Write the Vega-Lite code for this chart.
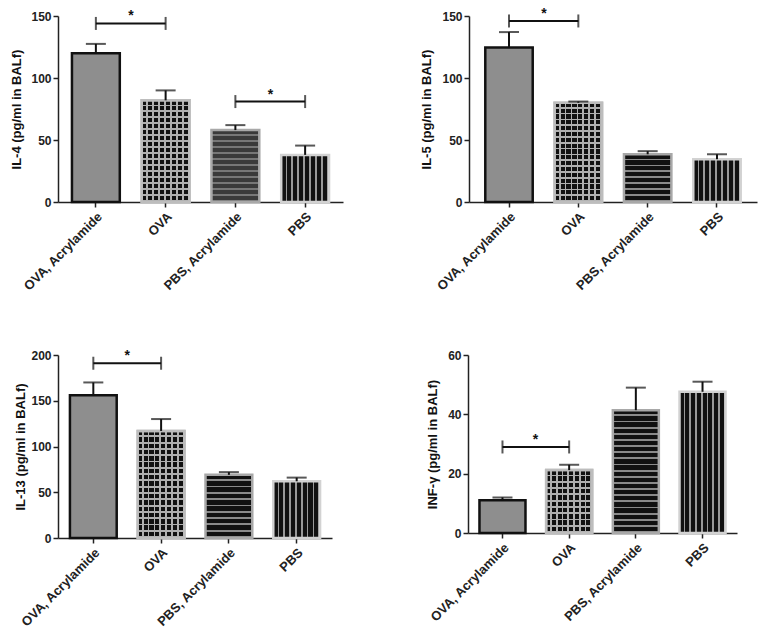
{
 "$schema": "https://vega.github.io/schema/vega-lite/v6.json",
 "background": "white",
 "padding": {"left": 10, "top": 6, "right": 5, "bottom": 5},
 "config": {
  "font": "Liberation Sans",
  "view": {"stroke": null},
  "axis": {"labelFont": "Liberation Sans", "labelFontWeight": "bold", "labelFontSize": 12, "labelColor": "#222", "titleFont": "Liberation Sans", "titleFontWeight": "bold", "titleFontSize": 13, "titleColor": "#111", "domainColor": "#222", "domainWidth": 1.5, "tickColor": "#222", "tickWidth": 1.5, "tickSize": 5, "grid": false, "labelPadding": 2},
  "axisX": {"labelAngle": -45, "title": null, "labelPadding": 3, "labelFontSize": 13}
 },
 "datasets": {
  "il4": [{"group": "OVA, Acrylamide", "mean": 120, "upper": 127.5}, {"group": "OVA", "mean": 82, "upper": 90}, {"group": "PBS, Acrylamide", "mean": 58, "upper": 62}, {"group": "PBS", "mean": 38, "upper": 45.5}],
  "sig4": [{"from": "OVA, Acrylamide", "to": "OVA", "y": 144}, {"from": "PBS, Acrylamide", "to": "PBS", "y": 81}],
  "il5": [{"group": "OVA, Acrylamide", "mean": 124.5, "upper": 137}, {"group": "OVA", "mean": 80, "upper": 81}, {"group": "PBS, Acrylamide", "mean": 38.5, "upper": 41}, {"group": "PBS", "mean": 34.5, "upper": 38.5}],
  "sig5": [{"from": "OVA, Acrylamide", "to": "OVA", "y": 146}],
  "il13": [{"group": "OVA, Acrylamide", "mean": 156, "upper": 170}, {"group": "OVA", "mean": 117, "upper": 130}, {"group": "PBS, Acrylamide", "mean": 69, "upper": 72}, {"group": "PBS", "mean": 62, "upper": 66}],
  "sig13": [{"from": "OVA, Acrylamide", "to": "OVA", "y": 191}],
  "inf": [{"group": "OVA, Acrylamide", "mean": 11, "upper": 12}, {"group": "OVA", "mean": 21.2, "upper": 23}, {"group": "PBS, Acrylamide", "mean": 41.4, "upper": 49}, {"group": "PBS", "mean": 47.6, "upper": 51}],
  "siginf": [{"from": "OVA, Acrylamide", "to": "OVA", "y": 29}]
 },
 "spacing": 55,
 "vconcat": [
  {"spacing": 77, "hconcat": [
   {"width": 285, "height": 186,
    "encoding": {"x": {"field": "group", "type": "nominal", "sort": null, "scale": {"domain": ["OVA, Acrylamide", "OVA", "PBS, Acrylamide", "PBS"], "paddingInner": 0.314, "paddingOuter": 0.2}}},
    "layer": [
     {"data": {"name": "il4"}, "mark": {"type": "bar", "strokeWidth": 2.5},
      "encoding": {
       "y": {"field": "mean", "type": "quantitative", "scale": {"domain": [0, 150], "nice": false}, "axis": {"title": "IL-4 (pg/ml in BALf)", "values": [0, 50, 100, 150], "titlePadding": 7}},
       "fill": {"condition": [
        {"test": "datum.group === 'PBS'", "value": {"gradient": "linear", "x1": 0, "y1": 0, "x2": 1, "y2": 0, "stops": [{"offset":0,"color":"#111"},{"offset":0.09,"color":"#111"},{"offset":0.09,"color":"#999"},{"offset":0.125,"color":"#999"},{"offset":0.125,"color":"#111"},{"offset":0.215,"color":"#111"},{"offset":0.215,"color":"#999"},{"offset":0.25,"color":"#999"},{"offset":0.25,"color":"#111"},{"offset":0.34,"color":"#111"},{"offset":0.34,"color":"#999"},{"offset":0.375,"color":"#999"},{"offset":0.375,"color":"#111"},{"offset":0.465,"color":"#111"},{"offset":0.465,"color":"#999"},{"offset":0.5,"color":"#999"},{"offset":0.5,"color":"#111"},{"offset":0.59,"color":"#111"},{"offset":0.59,"color":"#999"},{"offset":0.625,"color":"#999"},{"offset":0.625,"color":"#111"},{"offset":0.715,"color":"#111"},{"offset":0.715,"color":"#999"},{"offset":0.75,"color":"#999"},{"offset":0.75,"color":"#111"},{"offset":0.84,"color":"#111"},{"offset":0.84,"color":"#999"},{"offset":0.875,"color":"#999"},{"offset":0.875,"color":"#111"},{"offset":0.965,"color":"#111"},{"offset":0.965,"color":"#999"},{"offset":1,"color":"#999"}]}},
        {"test": "datum.group === 'PBS, Acrylamide'", "value": {"gradient": "linear", "x1": 0, "y1": 0, "x2": 0, "y2": 1, "stops": [{"offset":0,"color":"#3a3a3a"},{"offset":0.0583,"color":"#3a3a3a"},{"offset":0.0583,"color":"#777"},{"offset":0.0833,"color":"#777"},{"offset":0.0833,"color":"#3a3a3a"},{"offset":0.1417,"color":"#3a3a3a"},{"offset":0.1417,"color":"#777"},{"offset":0.1667,"color":"#777"},{"offset":0.1667,"color":"#3a3a3a"},{"offset":0.225,"color":"#3a3a3a"},{"offset":0.225,"color":"#777"},{"offset":0.25,"color":"#777"},{"offset":0.25,"color":"#3a3a3a"},{"offset":0.3083,"color":"#3a3a3a"},{"offset":0.3083,"color":"#777"},{"offset":0.3333,"color":"#777"},{"offset":0.3333,"color":"#3a3a3a"},{"offset":0.3917,"color":"#3a3a3a"},{"offset":0.3917,"color":"#777"},{"offset":0.4167,"color":"#777"},{"offset":0.4167,"color":"#3a3a3a"},{"offset":0.475,"color":"#3a3a3a"},{"offset":0.475,"color":"#777"},{"offset":0.5,"color":"#777"},{"offset":0.5,"color":"#3a3a3a"},{"offset":0.5583,"color":"#3a3a3a"},{"offset":0.5583,"color":"#777"},{"offset":0.5833,"color":"#777"},{"offset":0.5833,"color":"#3a3a3a"},{"offset":0.6417,"color":"#3a3a3a"},{"offset":0.6417,"color":"#777"},{"offset":0.6667,"color":"#777"},{"offset":0.6667,"color":"#3a3a3a"},{"offset":0.725,"color":"#3a3a3a"},{"offset":0.725,"color":"#777"},{"offset":0.75,"color":"#777"},{"offset":0.75,"color":"#3a3a3a"},{"offset":0.8083,"color":"#3a3a3a"},{"offset":0.8083,"color":"#777"},{"offset":0.8333,"color":"#777"},{"offset":0.8333,"color":"#3a3a3a"},{"offset":0.8917,"color":"#3a3a3a"},{"offset":0.8917,"color":"#777"},{"offset":0.9167,"color":"#777"},{"offset":0.9167,"color":"#3a3a3a"},{"offset":0.975,"color":"#3a3a3a"},{"offset":0.975,"color":"#777"},{"offset":1,"color":"#777"}]}},
        {"test": "datum.group === 'OVA'", "value": {"gradient": "linear", "x1": 0, "y1": 0, "x2": 1, "y2": 0, "stops": [{"offset":0,"color":"#111"},{"offset":0.0875,"color":"#111"},{"offset":0.0875,"color":"#b0b0b0"},{"offset":0.125,"color":"#b0b0b0"},{"offset":0.125,"color":"#111"},{"offset":0.2125,"color":"#111"},{"offset":0.2125,"color":"#b0b0b0"},{"offset":0.25,"color":"#b0b0b0"},{"offset":0.25,"color":"#111"},{"offset":0.3375,"color":"#111"},{"offset":0.3375,"color":"#b0b0b0"},{"offset":0.375,"color":"#b0b0b0"},{"offset":0.375,"color":"#111"},{"offset":0.4625,"color":"#111"},{"offset":0.4625,"color":"#b0b0b0"},{"offset":0.5,"color":"#b0b0b0"},{"offset":0.5,"color":"#111"},{"offset":0.5875,"color":"#111"},{"offset":0.5875,"color":"#b0b0b0"},{"offset":0.625,"color":"#b0b0b0"},{"offset":0.625,"color":"#111"},{"offset":0.7125,"color":"#111"},{"offset":0.7125,"color":"#b0b0b0"},{"offset":0.75,"color":"#b0b0b0"},{"offset":0.75,"color":"#111"},{"offset":0.8375,"color":"#111"},{"offset":0.8375,"color":"#b0b0b0"},{"offset":0.875,"color":"#b0b0b0"},{"offset":0.875,"color":"#111"},{"offset":0.9625,"color":"#111"},{"offset":0.9625,"color":"#b0b0b0"},{"offset":1,"color":"#b0b0b0"}]}}
       ], "value": "#8e8e8e"},
       "stroke": {"condition": [
        {"test": "datum.group === 'PBS'", "value": "#d2d2d2"},
        {"test": "datum.group === 'PBS, Acrylamide'", "value": "#a8a8a8"},
        {"test": "datum.group === 'OVA'", "value": "#bdbdbd"}
       ], "value": "#111111"}
      }},
     {"data": {"name": "il4"}, "transform": [{"filter": "datum.group === 'OVA'"}], "mark": {"type": "bar", "strokeWidth": 2.5, "stroke": "#bdbdbd", "fill": {"gradient": "linear", "x1": 0, "y1": 0, "x2": 0, "y2": 1, "stops": [{"offset":0,"color":"rgba(0,0,0,0)"},{"offset":0.0412,"color":"rgba(0,0,0,0)"},{"offset":0.0412,"color":"#b0b0b0"},{"offset":0.0588,"color":"#b0b0b0"},{"offset":0.0588,"color":"rgba(0,0,0,0)"},{"offset":0.1,"color":"rgba(0,0,0,0)"},{"offset":0.1,"color":"#b0b0b0"},{"offset":0.1176,"color":"#b0b0b0"},{"offset":0.1176,"color":"rgba(0,0,0,0)"},{"offset":0.1588,"color":"rgba(0,0,0,0)"},{"offset":0.1588,"color":"#b0b0b0"},{"offset":0.1765,"color":"#b0b0b0"},{"offset":0.1765,"color":"rgba(0,0,0,0)"},{"offset":0.2177,"color":"rgba(0,0,0,0)"},{"offset":0.2177,"color":"#b0b0b0"},{"offset":0.2353,"color":"#b0b0b0"},{"offset":0.2353,"color":"rgba(0,0,0,0)"},{"offset":0.2765,"color":"rgba(0,0,0,0)"},{"offset":0.2765,"color":"#b0b0b0"},{"offset":0.2941,"color":"#b0b0b0"},{"offset":0.2941,"color":"rgba(0,0,0,0)"},{"offset":0.3353,"color":"rgba(0,0,0,0)"},{"offset":0.3353,"color":"#b0b0b0"},{"offset":0.3529,"color":"#b0b0b0"},{"offset":0.3529,"color":"rgba(0,0,0,0)"},{"offset":0.3941,"color":"rgba(0,0,0,0)"},{"offset":0.3941,"color":"#b0b0b0"},{"offset":0.4118,"color":"#b0b0b0"},{"offset":0.4118,"color":"rgba(0,0,0,0)"},{"offset":0.453,"color":"rgba(0,0,0,0)"},{"offset":0.453,"color":"#b0b0b0"},{"offset":0.4706,"color":"#b0b0b0"},{"offset":0.4706,"color":"rgba(0,0,0,0)"},{"offset":0.5118,"color":"rgba(0,0,0,0)"},{"offset":0.5118,"color":"#b0b0b0"},{"offset":0.5294,"color":"#b0b0b0"},{"offset":0.5294,"color":"rgba(0,0,0,0)"},{"offset":0.5706,"color":"rgba(0,0,0,0)"},{"offset":0.5706,"color":"#b0b0b0"},{"offset":0.5882,"color":"#b0b0b0"},{"offset":0.5882,"color":"rgba(0,0,0,0)"},{"offset":0.6294,"color":"rgba(0,0,0,0)"},{"offset":0.6294,"color":"#b0b0b0"},{"offset":0.6471,"color":"#b0b0b0"},{"offset":0.6471,"color":"rgba(0,0,0,0)"},{"offset":0.6883,"color":"rgba(0,0,0,0)"},{"offset":0.6883,"color":"#b0b0b0"},{"offset":0.7059,"color":"#b0b0b0"},{"offset":0.7059,"color":"rgba(0,0,0,0)"},{"offset":0.7471,"color":"rgba(0,0,0,0)"},{"offset":0.7471,"color":"#b0b0b0"},{"offset":0.7647,"color":"#b0b0b0"},{"offset":0.7647,"color":"rgba(0,0,0,0)"},{"offset":0.8059,"color":"rgba(0,0,0,0)"},{"offset":0.8059,"color":"#b0b0b0"},{"offset":0.8235,"color":"#b0b0b0"},{"offset":0.8235,"color":"rgba(0,0,0,0)"},{"offset":0.8647,"color":"rgba(0,0,0,0)"},{"offset":0.8647,"color":"#b0b0b0"},{"offset":0.8824,"color":"#b0b0b0"},{"offset":0.8824,"color":"rgba(0,0,0,0)"},{"offset":0.9236,"color":"rgba(0,0,0,0)"},{"offset":0.9236,"color":"#b0b0b0"},{"offset":0.9412,"color":"#b0b0b0"},{"offset":0.9412,"color":"rgba(0,0,0,0)"},{"offset":0.9824,"color":"rgba(0,0,0,0)"},{"offset":0.9824,"color":"#b0b0b0"},{"offset":1,"color":"#b0b0b0"}]}}, "encoding": {"y": {"field": "mean", "type": "quantitative"}}},
     {"data": {"name": "il4"}, "mark": {"type": "rule", "color": "#111", "strokeWidth": 2}, "encoding": {"y": {"field": "mean", "type": "quantitative"}, "y2": {"field": "upper"}}},
     {"data": {"name": "il4"}, "mark": {"type": "tick", "orient": "horizontal", "size": 20, "thickness": 2, "color": "#111"}, "encoding": {"y": {"field": "upper", "type": "quantitative"}}},
     {"data": {"name": "sig4"}, "mark": {"type": "rule", "color": "#111", "strokeWidth": 2}, "encoding": {"x": {"field": "from", "type": "nominal", "sort": null}, "x2": {"field": "to"}, "y": {"field": "y", "type": "quantitative"}}},
     {"data": {"name": "sig4"}, "mark": {"type": "tick", "orient": "vertical", "size": 13, "thickness": 2, "color": "#111"}, "encoding": {"x": {"field": "from", "type": "nominal", "sort": null}, "y": {"field": "y", "type": "quantitative"}}},
     {"data": {"name": "sig4"}, "mark": {"type": "tick", "orient": "vertical", "size": 13, "thickness": 2, "color": "#111"}, "encoding": {"x": {"field": "to", "type": "nominal", "sort": null}, "y": {"field": "y", "type": "quantitative"}}},
     {"data": {"name": "sig4"}, "mark": {"type": "text", "text": "*", "fontSize": 14, "fontWeight": "bold", "dx": 35, "dy": -7, "color": "#111"}, "encoding": {"x": {"field": "from", "type": "nominal", "sort": null}, "y": {"field": "y", "type": "quantitative"}}}
    ]},
   {"width": 288, "height": 186,
    "encoding": {"x": {"field": "group", "type": "nominal", "sort": null, "scale": {"domain": ["OVA, Acrylamide", "OVA", "PBS, Acrylamide", "PBS"], "paddingInner": 0.316, "paddingOuter": 0.235}}},
    "layer": [
     {"data": {"name": "il5"}, "mark": {"type": "bar", "strokeWidth": 2.5},
      "encoding": {
       "y": {"field": "mean", "type": "quantitative", "scale": {"domain": [0, 150], "nice": false}, "axis": {"title": "IL-5 (pg/ml in BALf)", "values": [0, 50, 100, 150], "titlePadding": 8}},
       "fill": {"condition": [
        {"test": "datum.group === 'PBS'", "value": {"gradient": "linear", "x1": 0, "y1": 0, "x2": 1, "y2": 0, "stops": [{"offset":0,"color":"#111"},{"offset":0.09,"color":"#111"},{"offset":0.09,"color":"#999"},{"offset":0.125,"color":"#999"},{"offset":0.125,"color":"#111"},{"offset":0.215,"color":"#111"},{"offset":0.215,"color":"#999"},{"offset":0.25,"color":"#999"},{"offset":0.25,"color":"#111"},{"offset":0.34,"color":"#111"},{"offset":0.34,"color":"#999"},{"offset":0.375,"color":"#999"},{"offset":0.375,"color":"#111"},{"offset":0.465,"color":"#111"},{"offset":0.465,"color":"#999"},{"offset":0.5,"color":"#999"},{"offset":0.5,"color":"#111"},{"offset":0.59,"color":"#111"},{"offset":0.59,"color":"#999"},{"offset":0.625,"color":"#999"},{"offset":0.625,"color":"#111"},{"offset":0.715,"color":"#111"},{"offset":0.715,"color":"#999"},{"offset":0.75,"color":"#999"},{"offset":0.75,"color":"#111"},{"offset":0.84,"color":"#111"},{"offset":0.84,"color":"#999"},{"offset":0.875,"color":"#999"},{"offset":0.875,"color":"#111"},{"offset":0.965,"color":"#111"},{"offset":0.965,"color":"#999"},{"offset":1,"color":"#999"}]}},
        {"test": "datum.group === 'PBS, Acrylamide'", "value": {"gradient": "linear", "x1": 0, "y1": 0, "x2": 0, "y2": 1, "stops": [{"offset":0,"color":"#111"},{"offset":0.09,"color":"#111"},{"offset":0.09,"color":"#8a8a8a"},{"offset":0.125,"color":"#8a8a8a"},{"offset":0.125,"color":"#111"},{"offset":0.215,"color":"#111"},{"offset":0.215,"color":"#8a8a8a"},{"offset":0.25,"color":"#8a8a8a"},{"offset":0.25,"color":"#111"},{"offset":0.34,"color":"#111"},{"offset":0.34,"color":"#8a8a8a"},{"offset":0.375,"color":"#8a8a8a"},{"offset":0.375,"color":"#111"},{"offset":0.465,"color":"#111"},{"offset":0.465,"color":"#8a8a8a"},{"offset":0.5,"color":"#8a8a8a"},{"offset":0.5,"color":"#111"},{"offset":0.59,"color":"#111"},{"offset":0.59,"color":"#8a8a8a"},{"offset":0.625,"color":"#8a8a8a"},{"offset":0.625,"color":"#111"},{"offset":0.715,"color":"#111"},{"offset":0.715,"color":"#8a8a8a"},{"offset":0.75,"color":"#8a8a8a"},{"offset":0.75,"color":"#111"},{"offset":0.84,"color":"#111"},{"offset":0.84,"color":"#8a8a8a"},{"offset":0.875,"color":"#8a8a8a"},{"offset":0.875,"color":"#111"},{"offset":0.965,"color":"#111"},{"offset":0.965,"color":"#8a8a8a"},{"offset":1,"color":"#8a8a8a"}]}},
        {"test": "datum.group === 'OVA'", "value": {"gradient": "linear", "x1": 0, "y1": 0, "x2": 1, "y2": 0, "stops": [{"offset":0,"color":"#111"},{"offset":0.0875,"color":"#111"},{"offset":0.0875,"color":"#b0b0b0"},{"offset":0.125,"color":"#b0b0b0"},{"offset":0.125,"color":"#111"},{"offset":0.2125,"color":"#111"},{"offset":0.2125,"color":"#b0b0b0"},{"offset":0.25,"color":"#b0b0b0"},{"offset":0.25,"color":"#111"},{"offset":0.3375,"color":"#111"},{"offset":0.3375,"color":"#b0b0b0"},{"offset":0.375,"color":"#b0b0b0"},{"offset":0.375,"color":"#111"},{"offset":0.4625,"color":"#111"},{"offset":0.4625,"color":"#b0b0b0"},{"offset":0.5,"color":"#b0b0b0"},{"offset":0.5,"color":"#111"},{"offset":0.5875,"color":"#111"},{"offset":0.5875,"color":"#b0b0b0"},{"offset":0.625,"color":"#b0b0b0"},{"offset":0.625,"color":"#111"},{"offset":0.7125,"color":"#111"},{"offset":0.7125,"color":"#b0b0b0"},{"offset":0.75,"color":"#b0b0b0"},{"offset":0.75,"color":"#111"},{"offset":0.8375,"color":"#111"},{"offset":0.8375,"color":"#b0b0b0"},{"offset":0.875,"color":"#b0b0b0"},{"offset":0.875,"color":"#111"},{"offset":0.9625,"color":"#111"},{"offset":0.9625,"color":"#b0b0b0"},{"offset":1,"color":"#b0b0b0"}]}}
       ], "value": "#8e8e8e"},
       "stroke": {"condition": [
        {"test": "datum.group === 'PBS'", "value": "#d2d2d2"},
        {"test": "datum.group === 'PBS, Acrylamide'", "value": "#a8a8a8"},
        {"test": "datum.group === 'OVA'", "value": "#bdbdbd"}
       ], "value": "#111111"}
      }},
     {"data": {"name": "il5"}, "transform": [{"filter": "datum.group === 'OVA'"}], "mark": {"type": "bar", "strokeWidth": 2.5, "stroke": "#bdbdbd", "fill": {"gradient": "linear", "x1": 0, "y1": 0, "x2": 0, "y2": 1, "stops": [{"offset":0,"color":"rgba(0,0,0,0)"},{"offset":0.0412,"color":"rgba(0,0,0,0)"},{"offset":0.0412,"color":"#b0b0b0"},{"offset":0.0588,"color":"#b0b0b0"},{"offset":0.0588,"color":"rgba(0,0,0,0)"},{"offset":0.1,"color":"rgba(0,0,0,0)"},{"offset":0.1,"color":"#b0b0b0"},{"offset":0.1176,"color":"#b0b0b0"},{"offset":0.1176,"color":"rgba(0,0,0,0)"},{"offset":0.1588,"color":"rgba(0,0,0,0)"},{"offset":0.1588,"color":"#b0b0b0"},{"offset":0.1765,"color":"#b0b0b0"},{"offset":0.1765,"color":"rgba(0,0,0,0)"},{"offset":0.2177,"color":"rgba(0,0,0,0)"},{"offset":0.2177,"color":"#b0b0b0"},{"offset":0.2353,"color":"#b0b0b0"},{"offset":0.2353,"color":"rgba(0,0,0,0)"},{"offset":0.2765,"color":"rgba(0,0,0,0)"},{"offset":0.2765,"color":"#b0b0b0"},{"offset":0.2941,"color":"#b0b0b0"},{"offset":0.2941,"color":"rgba(0,0,0,0)"},{"offset":0.3353,"color":"rgba(0,0,0,0)"},{"offset":0.3353,"color":"#b0b0b0"},{"offset":0.3529,"color":"#b0b0b0"},{"offset":0.3529,"color":"rgba(0,0,0,0)"},{"offset":0.3941,"color":"rgba(0,0,0,0)"},{"offset":0.3941,"color":"#b0b0b0"},{"offset":0.4118,"color":"#b0b0b0"},{"offset":0.4118,"color":"rgba(0,0,0,0)"},{"offset":0.453,"color":"rgba(0,0,0,0)"},{"offset":0.453,"color":"#b0b0b0"},{"offset":0.4706,"color":"#b0b0b0"},{"offset":0.4706,"color":"rgba(0,0,0,0)"},{"offset":0.5118,"color":"rgba(0,0,0,0)"},{"offset":0.5118,"color":"#b0b0b0"},{"offset":0.5294,"color":"#b0b0b0"},{"offset":0.5294,"color":"rgba(0,0,0,0)"},{"offset":0.5706,"color":"rgba(0,0,0,0)"},{"offset":0.5706,"color":"#b0b0b0"},{"offset":0.5882,"color":"#b0b0b0"},{"offset":0.5882,"color":"rgba(0,0,0,0)"},{"offset":0.6294,"color":"rgba(0,0,0,0)"},{"offset":0.6294,"color":"#b0b0b0"},{"offset":0.6471,"color":"#b0b0b0"},{"offset":0.6471,"color":"rgba(0,0,0,0)"},{"offset":0.6883,"color":"rgba(0,0,0,0)"},{"offset":0.6883,"color":"#b0b0b0"},{"offset":0.7059,"color":"#b0b0b0"},{"offset":0.7059,"color":"rgba(0,0,0,0)"},{"offset":0.7471,"color":"rgba(0,0,0,0)"},{"offset":0.7471,"color":"#b0b0b0"},{"offset":0.7647,"color":"#b0b0b0"},{"offset":0.7647,"color":"rgba(0,0,0,0)"},{"offset":0.8059,"color":"rgba(0,0,0,0)"},{"offset":0.8059,"color":"#b0b0b0"},{"offset":0.8235,"color":"#b0b0b0"},{"offset":0.8235,"color":"rgba(0,0,0,0)"},{"offset":0.8647,"color":"rgba(0,0,0,0)"},{"offset":0.8647,"color":"#b0b0b0"},{"offset":0.8824,"color":"#b0b0b0"},{"offset":0.8824,"color":"rgba(0,0,0,0)"},{"offset":0.9236,"color":"rgba(0,0,0,0)"},{"offset":0.9236,"color":"#b0b0b0"},{"offset":0.9412,"color":"#b0b0b0"},{"offset":0.9412,"color":"rgba(0,0,0,0)"},{"offset":0.9824,"color":"rgba(0,0,0,0)"},{"offset":0.9824,"color":"#b0b0b0"},{"offset":1,"color":"#b0b0b0"}]}}, "encoding": {"y": {"field": "mean", "type": "quantitative"}}},
     {"data": {"name": "il5"}, "mark": {"type": "rule", "color": "#111", "strokeWidth": 2}, "encoding": {"y": {"field": "mean", "type": "quantitative"}, "y2": {"field": "upper"}}},
     {"data": {"name": "il5"}, "mark": {"type": "tick", "orient": "horizontal", "size": 20, "thickness": 2, "color": "#111"}, "encoding": {"y": {"field": "upper", "type": "quantitative"}}},
     {"data": {"name": "sig5"}, "mark": {"type": "rule", "color": "#111", "strokeWidth": 2}, "encoding": {"x": {"field": "from", "type": "nominal", "sort": null}, "x2": {"field": "to"}, "y": {"field": "y", "type": "quantitative"}}},
     {"data": {"name": "sig5"}, "mark": {"type": "tick", "orient": "vertical", "size": 13, "thickness": 2, "color": "#111"}, "encoding": {"x": {"field": "from", "type": "nominal", "sort": null}, "y": {"field": "y", "type": "quantitative"}}},
     {"data": {"name": "sig5"}, "mark": {"type": "tick", "orient": "vertical", "size": 13, "thickness": 2, "color": "#111"}, "encoding": {"x": {"field": "to", "type": "nominal", "sort": null}, "y": {"field": "y", "type": "quantitative"}}},
     {"data": {"name": "sig5"}, "mark": {"type": "text", "text": "*", "fontSize": 14, "fontWeight": "bold", "dx": 35, "dy": -7, "color": "#111"}, "encoding": {"x": {"field": "from", "type": "nominal", "sort": null}, "y": {"field": "y", "type": "quantitative"}}}
    ]}
  ]},
  {"spacing": 94, "hconcat": [
   {"width": 274, "height": 183,
    "encoding": {"x": {"field": "group", "type": "nominal", "sort": null, "scale": {"domain": ["OVA, Acrylamide", "OVA", "PBS, Acrylamide", "PBS"], "paddingInner": 0.31, "paddingOuter": 0.176}}},
    "layer": [
     {"data": {"name": "il13"}, "mark": {"type": "bar", "strokeWidth": 2.5},
      "encoding": {
       "y": {"field": "mean", "type": "quantitative", "scale": {"domain": [0, 200], "nice": false}, "axis": {"title": "IL-13 (pg/ml in BALf)", "values": [0, 50, 100, 150, 200], "titlePadding": 3}},
       "fill": {"condition": [
        {"test": "datum.group === 'PBS'", "value": {"gradient": "linear", "x1": 0, "y1": 0, "x2": 1, "y2": 0, "stops": [{"offset":0,"color":"#111"},{"offset":0.09,"color":"#111"},{"offset":0.09,"color":"#999"},{"offset":0.125,"color":"#999"},{"offset":0.125,"color":"#111"},{"offset":0.215,"color":"#111"},{"offset":0.215,"color":"#999"},{"offset":0.25,"color":"#999"},{"offset":0.25,"color":"#111"},{"offset":0.34,"color":"#111"},{"offset":0.34,"color":"#999"},{"offset":0.375,"color":"#999"},{"offset":0.375,"color":"#111"},{"offset":0.465,"color":"#111"},{"offset":0.465,"color":"#999"},{"offset":0.5,"color":"#999"},{"offset":0.5,"color":"#111"},{"offset":0.59,"color":"#111"},{"offset":0.59,"color":"#999"},{"offset":0.625,"color":"#999"},{"offset":0.625,"color":"#111"},{"offset":0.715,"color":"#111"},{"offset":0.715,"color":"#999"},{"offset":0.75,"color":"#999"},{"offset":0.75,"color":"#111"},{"offset":0.84,"color":"#111"},{"offset":0.84,"color":"#999"},{"offset":0.875,"color":"#999"},{"offset":0.875,"color":"#111"},{"offset":0.965,"color":"#111"},{"offset":0.965,"color":"#999"},{"offset":1,"color":"#999"}]}},
        {"test": "datum.group === 'PBS, Acrylamide'", "value": {"gradient": "linear", "x1": 0, "y1": 0, "x2": 0, "y2": 1, "stops": [{"offset":0,"color":"#111"},{"offset":0.07,"color":"#111"},{"offset":0.07,"color":"#8a8a8a"},{"offset":0.1,"color":"#8a8a8a"},{"offset":0.1,"color":"#111"},{"offset":0.17,"color":"#111"},{"offset":0.17,"color":"#8a8a8a"},{"offset":0.2,"color":"#8a8a8a"},{"offset":0.2,"color":"#111"},{"offset":0.27,"color":"#111"},{"offset":0.27,"color":"#8a8a8a"},{"offset":0.3,"color":"#8a8a8a"},{"offset":0.3,"color":"#111"},{"offset":0.37,"color":"#111"},{"offset":0.37,"color":"#8a8a8a"},{"offset":0.4,"color":"#8a8a8a"},{"offset":0.4,"color":"#111"},{"offset":0.47,"color":"#111"},{"offset":0.47,"color":"#8a8a8a"},{"offset":0.5,"color":"#8a8a8a"},{"offset":0.5,"color":"#111"},{"offset":0.57,"color":"#111"},{"offset":0.57,"color":"#8a8a8a"},{"offset":0.6,"color":"#8a8a8a"},{"offset":0.6,"color":"#111"},{"offset":0.67,"color":"#111"},{"offset":0.67,"color":"#8a8a8a"},{"offset":0.7,"color":"#8a8a8a"},{"offset":0.7,"color":"#111"},{"offset":0.77,"color":"#111"},{"offset":0.77,"color":"#8a8a8a"},{"offset":0.8,"color":"#8a8a8a"},{"offset":0.8,"color":"#111"},{"offset":0.87,"color":"#111"},{"offset":0.87,"color":"#8a8a8a"},{"offset":0.9,"color":"#8a8a8a"},{"offset":0.9,"color":"#111"},{"offset":0.97,"color":"#111"},{"offset":0.97,"color":"#8a8a8a"},{"offset":1,"color":"#8a8a8a"}]}},
        {"test": "datum.group === 'OVA'", "value": {"gradient": "linear", "x1": 0, "y1": 0, "x2": 1, "y2": 0, "stops": [{"offset":0,"color":"#111"},{"offset":0.0875,"color":"#111"},{"offset":0.0875,"color":"#b0b0b0"},{"offset":0.125,"color":"#b0b0b0"},{"offset":0.125,"color":"#111"},{"offset":0.2125,"color":"#111"},{"offset":0.2125,"color":"#b0b0b0"},{"offset":0.25,"color":"#b0b0b0"},{"offset":0.25,"color":"#111"},{"offset":0.3375,"color":"#111"},{"offset":0.3375,"color":"#b0b0b0"},{"offset":0.375,"color":"#b0b0b0"},{"offset":0.375,"color":"#111"},{"offset":0.4625,"color":"#111"},{"offset":0.4625,"color":"#b0b0b0"},{"offset":0.5,"color":"#b0b0b0"},{"offset":0.5,"color":"#111"},{"offset":0.5875,"color":"#111"},{"offset":0.5875,"color":"#b0b0b0"},{"offset":0.625,"color":"#b0b0b0"},{"offset":0.625,"color":"#111"},{"offset":0.7125,"color":"#111"},{"offset":0.7125,"color":"#b0b0b0"},{"offset":0.75,"color":"#b0b0b0"},{"offset":0.75,"color":"#111"},{"offset":0.8375,"color":"#111"},{"offset":0.8375,"color":"#b0b0b0"},{"offset":0.875,"color":"#b0b0b0"},{"offset":0.875,"color":"#111"},{"offset":0.9625,"color":"#111"},{"offset":0.9625,"color":"#b0b0b0"},{"offset":1,"color":"#b0b0b0"}]}}
       ], "value": "#8e8e8e"},
       "stroke": {"condition": [
        {"test": "datum.group === 'PBS'", "value": "#d2d2d2"},
        {"test": "datum.group === 'PBS, Acrylamide'", "value": "#a8a8a8"},
        {"test": "datum.group === 'OVA'", "value": "#bdbdbd"}
       ], "value": "#111111"}
      }},
     {"data": {"name": "il13"}, "transform": [{"filter": "datum.group === 'OVA'"}], "mark": {"type": "bar", "strokeWidth": 2.5, "stroke": "#bdbdbd", "fill": {"gradient": "linear", "x1": 0, "y1": 0, "x2": 0, "y2": 1, "stops": [{"offset":0,"color":"rgba(0,0,0,0)"},{"offset":0.0412,"color":"rgba(0,0,0,0)"},{"offset":0.0412,"color":"#b0b0b0"},{"offset":0.0588,"color":"#b0b0b0"},{"offset":0.0588,"color":"rgba(0,0,0,0)"},{"offset":0.1,"color":"rgba(0,0,0,0)"},{"offset":0.1,"color":"#b0b0b0"},{"offset":0.1176,"color":"#b0b0b0"},{"offset":0.1176,"color":"rgba(0,0,0,0)"},{"offset":0.1588,"color":"rgba(0,0,0,0)"},{"offset":0.1588,"color":"#b0b0b0"},{"offset":0.1765,"color":"#b0b0b0"},{"offset":0.1765,"color":"rgba(0,0,0,0)"},{"offset":0.2177,"color":"rgba(0,0,0,0)"},{"offset":0.2177,"color":"#b0b0b0"},{"offset":0.2353,"color":"#b0b0b0"},{"offset":0.2353,"color":"rgba(0,0,0,0)"},{"offset":0.2765,"color":"rgba(0,0,0,0)"},{"offset":0.2765,"color":"#b0b0b0"},{"offset":0.2941,"color":"#b0b0b0"},{"offset":0.2941,"color":"rgba(0,0,0,0)"},{"offset":0.3353,"color":"rgba(0,0,0,0)"},{"offset":0.3353,"color":"#b0b0b0"},{"offset":0.3529,"color":"#b0b0b0"},{"offset":0.3529,"color":"rgba(0,0,0,0)"},{"offset":0.3941,"color":"rgba(0,0,0,0)"},{"offset":0.3941,"color":"#b0b0b0"},{"offset":0.4118,"color":"#b0b0b0"},{"offset":0.4118,"color":"rgba(0,0,0,0)"},{"offset":0.453,"color":"rgba(0,0,0,0)"},{"offset":0.453,"color":"#b0b0b0"},{"offset":0.4706,"color":"#b0b0b0"},{"offset":0.4706,"color":"rgba(0,0,0,0)"},{"offset":0.5118,"color":"rgba(0,0,0,0)"},{"offset":0.5118,"color":"#b0b0b0"},{"offset":0.5294,"color":"#b0b0b0"},{"offset":0.5294,"color":"rgba(0,0,0,0)"},{"offset":0.5706,"color":"rgba(0,0,0,0)"},{"offset":0.5706,"color":"#b0b0b0"},{"offset":0.5882,"color":"#b0b0b0"},{"offset":0.5882,"color":"rgba(0,0,0,0)"},{"offset":0.6294,"color":"rgba(0,0,0,0)"},{"offset":0.6294,"color":"#b0b0b0"},{"offset":0.6471,"color":"#b0b0b0"},{"offset":0.6471,"color":"rgba(0,0,0,0)"},{"offset":0.6883,"color":"rgba(0,0,0,0)"},{"offset":0.6883,"color":"#b0b0b0"},{"offset":0.7059,"color":"#b0b0b0"},{"offset":0.7059,"color":"rgba(0,0,0,0)"},{"offset":0.7471,"color":"rgba(0,0,0,0)"},{"offset":0.7471,"color":"#b0b0b0"},{"offset":0.7647,"color":"#b0b0b0"},{"offset":0.7647,"color":"rgba(0,0,0,0)"},{"offset":0.8059,"color":"rgba(0,0,0,0)"},{"offset":0.8059,"color":"#b0b0b0"},{"offset":0.8235,"color":"#b0b0b0"},{"offset":0.8235,"color":"rgba(0,0,0,0)"},{"offset":0.8647,"color":"rgba(0,0,0,0)"},{"offset":0.8647,"color":"#b0b0b0"},{"offset":0.8824,"color":"#b0b0b0"},{"offset":0.8824,"color":"rgba(0,0,0,0)"},{"offset":0.9236,"color":"rgba(0,0,0,0)"},{"offset":0.9236,"color":"#b0b0b0"},{"offset":0.9412,"color":"#b0b0b0"},{"offset":0.9412,"color":"rgba(0,0,0,0)"},{"offset":0.9824,"color":"rgba(0,0,0,0)"},{"offset":0.9824,"color":"#b0b0b0"},{"offset":1,"color":"#b0b0b0"}]}}, "encoding": {"y": {"field": "mean", "type": "quantitative"}}},
     {"data": {"name": "il13"}, "mark": {"type": "rule", "color": "#111", "strokeWidth": 2}, "encoding": {"y": {"field": "mean", "type": "quantitative"}, "y2": {"field": "upper"}}},
     {"data": {"name": "il13"}, "mark": {"type": "tick", "orient": "horizontal", "size": 20, "thickness": 2, "color": "#111"}, "encoding": {"y": {"field": "upper", "type": "quantitative"}}},
     {"data": {"name": "sig13"}, "mark": {"type": "rule", "color": "#111", "strokeWidth": 2}, "encoding": {"x": {"field": "from", "type": "nominal", "sort": null}, "x2": {"field": "to"}, "y": {"field": "y", "type": "quantitative"}}},
     {"data": {"name": "sig13"}, "mark": {"type": "tick", "orient": "vertical", "size": 13, "thickness": 2, "color": "#111"}, "encoding": {"x": {"field": "from", "type": "nominal", "sort": null}, "y": {"field": "y", "type": "quantitative"}}},
     {"data": {"name": "sig13"}, "mark": {"type": "tick", "orient": "vertical", "size": 13, "thickness": 2, "color": "#111"}, "encoding": {"x": {"field": "to", "type": "nominal", "sort": null}, "y": {"field": "y", "type": "quantitative"}}},
     {"data": {"name": "sig13"}, "mark": {"type": "text", "text": "*", "fontSize": 14, "fontWeight": "bold", "dx": 34, "dy": -7, "color": "#111"}, "encoding": {"x": {"field": "from", "type": "nominal", "sort": null}, "y": {"field": "y", "type": "quantitative"}}}
    ]},
   {"width": 269, "height": 178,
    "encoding": {"x": {"field": "group", "type": "nominal", "sort": null, "scale": {"domain": ["OVA, Acrylamide", "OVA", "PBS, Acrylamide", "PBS"], "paddingInner": 0.31, "paddingOuter": 0.172}}},
    "layer": [
     {"data": {"name": "inf"}, "mark": {"type": "bar", "strokeWidth": 2.5},
      "encoding": {
       "y": {"field": "mean", "type": "quantitative", "scale": {"domain": [0, 60], "nice": false}, "axis": {"title": "INF-γ (pg/ml in BALf)", "values": [0, 20, 40, 60], "titlePadding": 8}},
       "fill": {"condition": [
        {"test": "datum.group === 'PBS'", "value": {"gradient": "linear", "x1": 0, "y1": 0, "x2": 1, "y2": 0, "stops": [{"offset":0,"color":"#111"},{"offset":0.09,"color":"#111"},{"offset":0.09,"color":"#999"},{"offset":0.125,"color":"#999"},{"offset":0.125,"color":"#111"},{"offset":0.215,"color":"#111"},{"offset":0.215,"color":"#999"},{"offset":0.25,"color":"#999"},{"offset":0.25,"color":"#111"},{"offset":0.34,"color":"#111"},{"offset":0.34,"color":"#999"},{"offset":0.375,"color":"#999"},{"offset":0.375,"color":"#111"},{"offset":0.465,"color":"#111"},{"offset":0.465,"color":"#999"},{"offset":0.5,"color":"#999"},{"offset":0.5,"color":"#111"},{"offset":0.59,"color":"#111"},{"offset":0.59,"color":"#999"},{"offset":0.625,"color":"#999"},{"offset":0.625,"color":"#111"},{"offset":0.715,"color":"#111"},{"offset":0.715,"color":"#999"},{"offset":0.75,"color":"#999"},{"offset":0.75,"color":"#111"},{"offset":0.84,"color":"#111"},{"offset":0.84,"color":"#999"},{"offset":0.875,"color":"#999"},{"offset":0.875,"color":"#111"},{"offset":0.965,"color":"#111"},{"offset":0.965,"color":"#999"},{"offset":1,"color":"#999"}]}},
        {"test": "datum.group === 'PBS, Acrylamide'", "value": {"gradient": "linear", "x1": 0, "y1": 0, "x2": 0, "y2": 1, "stops": [{"offset":0,"color":"#111"},{"offset":0.035,"color":"#111"},{"offset":0.035,"color":"#8a8a8a"},{"offset":0.05,"color":"#8a8a8a"},{"offset":0.05,"color":"#111"},{"offset":0.085,"color":"#111"},{"offset":0.085,"color":"#8a8a8a"},{"offset":0.1,"color":"#8a8a8a"},{"offset":0.1,"color":"#111"},{"offset":0.135,"color":"#111"},{"offset":0.135,"color":"#8a8a8a"},{"offset":0.15,"color":"#8a8a8a"},{"offset":0.15,"color":"#111"},{"offset":0.185,"color":"#111"},{"offset":0.185,"color":"#8a8a8a"},{"offset":0.2,"color":"#8a8a8a"},{"offset":0.2,"color":"#111"},{"offset":0.235,"color":"#111"},{"offset":0.235,"color":"#8a8a8a"},{"offset":0.25,"color":"#8a8a8a"},{"offset":0.25,"color":"#111"},{"offset":0.285,"color":"#111"},{"offset":0.285,"color":"#8a8a8a"},{"offset":0.3,"color":"#8a8a8a"},{"offset":0.3,"color":"#111"},{"offset":0.335,"color":"#111"},{"offset":0.335,"color":"#8a8a8a"},{"offset":0.35,"color":"#8a8a8a"},{"offset":0.35,"color":"#111"},{"offset":0.385,"color":"#111"},{"offset":0.385,"color":"#8a8a8a"},{"offset":0.4,"color":"#8a8a8a"},{"offset":0.4,"color":"#111"},{"offset":0.435,"color":"#111"},{"offset":0.435,"color":"#8a8a8a"},{"offset":0.45,"color":"#8a8a8a"},{"offset":0.45,"color":"#111"},{"offset":0.485,"color":"#111"},{"offset":0.485,"color":"#8a8a8a"},{"offset":0.5,"color":"#8a8a8a"},{"offset":0.5,"color":"#111"},{"offset":0.535,"color":"#111"},{"offset":0.535,"color":"#8a8a8a"},{"offset":0.55,"color":"#8a8a8a"},{"offset":0.55,"color":"#111"},{"offset":0.585,"color":"#111"},{"offset":0.585,"color":"#8a8a8a"},{"offset":0.6,"color":"#8a8a8a"},{"offset":0.6,"color":"#111"},{"offset":0.635,"color":"#111"},{"offset":0.635,"color":"#8a8a8a"},{"offset":0.65,"color":"#8a8a8a"},{"offset":0.65,"color":"#111"},{"offset":0.685,"color":"#111"},{"offset":0.685,"color":"#8a8a8a"},{"offset":0.7,"color":"#8a8a8a"},{"offset":0.7,"color":"#111"},{"offset":0.735,"color":"#111"},{"offset":0.735,"color":"#8a8a8a"},{"offset":0.75,"color":"#8a8a8a"},{"offset":0.75,"color":"#111"},{"offset":0.785,"color":"#111"},{"offset":0.785,"color":"#8a8a8a"},{"offset":0.8,"color":"#8a8a8a"},{"offset":0.8,"color":"#111"},{"offset":0.835,"color":"#111"},{"offset":0.835,"color":"#8a8a8a"},{"offset":0.85,"color":"#8a8a8a"},{"offset":0.85,"color":"#111"},{"offset":0.885,"color":"#111"},{"offset":0.885,"color":"#8a8a8a"},{"offset":0.9,"color":"#8a8a8a"},{"offset":0.9,"color":"#111"},{"offset":0.935,"color":"#111"},{"offset":0.935,"color":"#8a8a8a"},{"offset":0.95,"color":"#8a8a8a"},{"offset":0.95,"color":"#111"},{"offset":0.985,"color":"#111"},{"offset":0.985,"color":"#8a8a8a"},{"offset":1,"color":"#8a8a8a"}]}},
        {"test": "datum.group === 'OVA'", "value": {"gradient": "linear", "x1": 0, "y1": 0, "x2": 1, "y2": 0, "stops": [{"offset":0,"color":"#111"},{"offset":0.0875,"color":"#111"},{"offset":0.0875,"color":"#b0b0b0"},{"offset":0.125,"color":"#b0b0b0"},{"offset":0.125,"color":"#111"},{"offset":0.2125,"color":"#111"},{"offset":0.2125,"color":"#b0b0b0"},{"offset":0.25,"color":"#b0b0b0"},{"offset":0.25,"color":"#111"},{"offset":0.3375,"color":"#111"},{"offset":0.3375,"color":"#b0b0b0"},{"offset":0.375,"color":"#b0b0b0"},{"offset":0.375,"color":"#111"},{"offset":0.4625,"color":"#111"},{"offset":0.4625,"color":"#b0b0b0"},{"offset":0.5,"color":"#b0b0b0"},{"offset":0.5,"color":"#111"},{"offset":0.5875,"color":"#111"},{"offset":0.5875,"color":"#b0b0b0"},{"offset":0.625,"color":"#b0b0b0"},{"offset":0.625,"color":"#111"},{"offset":0.7125,"color":"#111"},{"offset":0.7125,"color":"#b0b0b0"},{"offset":0.75,"color":"#b0b0b0"},{"offset":0.75,"color":"#111"},{"offset":0.8375,"color":"#111"},{"offset":0.8375,"color":"#b0b0b0"},{"offset":0.875,"color":"#b0b0b0"},{"offset":0.875,"color":"#111"},{"offset":0.9625,"color":"#111"},{"offset":0.9625,"color":"#b0b0b0"},{"offset":1,"color":"#b0b0b0"}]}}
       ], "value": "#8e8e8e"},
       "stroke": {"condition": [
        {"test": "datum.group === 'PBS'", "value": "#d2d2d2"},
        {"test": "datum.group === 'PBS, Acrylamide'", "value": "#a8a8a8"},
        {"test": "datum.group === 'OVA'", "value": "#bdbdbd"}
       ], "value": "#111111"}
      }},
     {"data": {"name": "inf"}, "transform": [{"filter": "datum.group === 'OVA'"}], "mark": {"type": "bar", "strokeWidth": 2.5, "stroke": "#bdbdbd", "fill": {"gradient": "linear", "x1": 0, "y1": 0, "x2": 0, "y2": 1, "stops": [{"offset":0,"color":"rgba(0,0,0,0)"},{"offset":0.07,"color":"rgba(0,0,0,0)"},{"offset":0.07,"color":"#b0b0b0"},{"offset":0.1,"color":"#b0b0b0"},{"offset":0.1,"color":"rgba(0,0,0,0)"},{"offset":0.17,"color":"rgba(0,0,0,0)"},{"offset":0.17,"color":"#b0b0b0"},{"offset":0.2,"color":"#b0b0b0"},{"offset":0.2,"color":"rgba(0,0,0,0)"},{"offset":0.27,"color":"rgba(0,0,0,0)"},{"offset":0.27,"color":"#b0b0b0"},{"offset":0.3,"color":"#b0b0b0"},{"offset":0.3,"color":"rgba(0,0,0,0)"},{"offset":0.37,"color":"rgba(0,0,0,0)"},{"offset":0.37,"color":"#b0b0b0"},{"offset":0.4,"color":"#b0b0b0"},{"offset":0.4,"color":"rgba(0,0,0,0)"},{"offset":0.47,"color":"rgba(0,0,0,0)"},{"offset":0.47,"color":"#b0b0b0"},{"offset":0.5,"color":"#b0b0b0"},{"offset":0.5,"color":"rgba(0,0,0,0)"},{"offset":0.57,"color":"rgba(0,0,0,0)"},{"offset":0.57,"color":"#b0b0b0"},{"offset":0.6,"color":"#b0b0b0"},{"offset":0.6,"color":"rgba(0,0,0,0)"},{"offset":0.67,"color":"rgba(0,0,0,0)"},{"offset":0.67,"color":"#b0b0b0"},{"offset":0.7,"color":"#b0b0b0"},{"offset":0.7,"color":"rgba(0,0,0,0)"},{"offset":0.77,"color":"rgba(0,0,0,0)"},{"offset":0.77,"color":"#b0b0b0"},{"offset":0.8,"color":"#b0b0b0"},{"offset":0.8,"color":"rgba(0,0,0,0)"},{"offset":0.87,"color":"rgba(0,0,0,0)"},{"offset":0.87,"color":"#b0b0b0"},{"offset":0.9,"color":"#b0b0b0"},{"offset":0.9,"color":"rgba(0,0,0,0)"},{"offset":0.97,"color":"rgba(0,0,0,0)"},{"offset":0.97,"color":"#b0b0b0"},{"offset":1,"color":"#b0b0b0"}]}}, "encoding": {"y": {"field": "mean", "type": "quantitative"}}},
     {"data": {"name": "inf"}, "mark": {"type": "rule", "color": "#111", "strokeWidth": 2}, "encoding": {"y": {"field": "mean", "type": "quantitative"}, "y2": {"field": "upper"}}},
     {"data": {"name": "inf"}, "mark": {"type": "tick", "orient": "horizontal", "size": 20, "thickness": 2, "color": "#111"}, "encoding": {"y": {"field": "upper", "type": "quantitative"}}},
     {"data": {"name": "siginf"}, "mark": {"type": "rule", "color": "#111", "strokeWidth": 2}, "encoding": {"x": {"field": "from", "type": "nominal", "sort": null}, "x2": {"field": "to"}, "y": {"field": "y", "type": "quantitative"}}},
     {"data": {"name": "siginf"}, "mark": {"type": "tick", "orient": "vertical", "size": 13, "thickness": 2, "color": "#111"}, "encoding": {"x": {"field": "from", "type": "nominal", "sort": null}, "y": {"field": "y", "type": "quantitative"}}},
     {"data": {"name": "siginf"}, "mark": {"type": "tick", "orient": "vertical", "size": 13, "thickness": 2, "color": "#111"}, "encoding": {"x": {"field": "to", "type": "nominal", "sort": null}, "y": {"field": "y", "type": "quantitative"}}},
     {"data": {"name": "siginf"}, "mark": {"type": "text", "text": "*", "fontSize": 14, "fontWeight": "bold", "dx": 33, "dy": -7, "color": "#111"}, "encoding": {"x": {"field": "from", "type": "nominal", "sort": null}, "y": {"field": "y", "type": "quantitative"}}}
    ]}
  ]}
 ]
}
